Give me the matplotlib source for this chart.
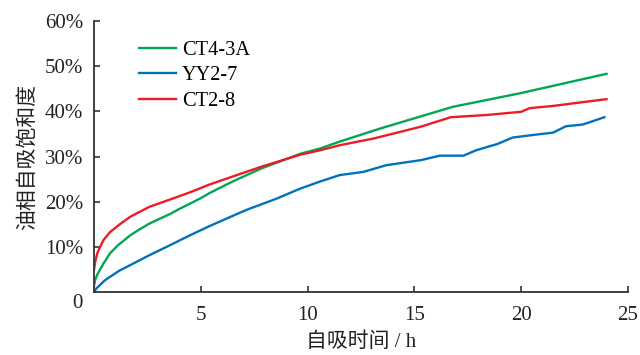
import matplotlib
matplotlib.use("Agg")
import matplotlib.pyplot as plt
from matplotlib.ticker import FixedLocator

plt.rcParams['font.family'] = ['Liberation Serif', 'Noto Sans CJK SC']

# Data (time in h, saturation in %)
t_ct43a = [0, 0.05, 0.15, 0.28, 0.45, 0.75, 1.1, 1.7, 2.1, 2.6, 3.1, 3.56, 4.03, 4.5, 5.0, 5.4, 5.9, 6.5, 7.8,
           9.65, 10.6, 11.5, 13.4, 16.8, 19.95, 24]
s_ct43a = [1.5, 2.7, 3.9, 5.0, 6.4, 8.6, 10.3, 12.6, 13.8, 15.2, 16.3, 17.3, 18.5, 19.6, 20.8, 21.9, 23.1, 24.5,
           27.3, 30.6, 31.8, 33.3, 36.2, 41.0, 44.0, 48.3]

t_yy27 = [0, 0.1, 0.28, 0.5, 0.75, 1.2, 1.7, 2.6, 3.56, 4.5, 5.4, 6.84, 7.3, 8.5, 9.65, 10.6, 11.5, 12.6, 13.7,
          15.3, 16.2, 17.3, 17.9, 18.9, 19.6, 20.6, 21.5, 22.1, 22.9, 23.9]
s_yy27 = [0, 0.8, 1.6, 2.6, 3.4, 4.8, 6.0, 8.2, 10.4, 12.6, 14.6, 17.6, 18.5, 20.6, 22.9, 24.5, 25.9, 26.6, 28.1,
          29.2, 30.2, 30.2, 31.4, 32.8, 34.2, 34.8, 35.3, 36.7, 37.1, 38.7]

t_ct28 = [0, 0.05, 0.15, 0.28, 0.45, 0.75, 1.2, 1.7, 2.6, 3.56, 4.5, 5.4, 6.5, 7.8, 9.65, 10.6, 11.5, 13.1, 15.3,
          15.9, 16.7, 18.4, 20.0, 20.4, 21.5, 24]
s_ct28 = [5.0, 6.7, 8.6, 10.0, 11.6, 13.3, 15.0, 16.7, 18.9, 20.5, 22.1, 23.8, 25.6, 27.7, 30.4, 31.4, 32.5, 34.0,
          36.6, 37.5, 38.7, 39.2, 39.9, 40.7, 41.2, 42.7]

series_names = ['CT4-3A', 'YY2-7', 'CT2-8']
colors = ['#00a651', '#0072bc', '#ed1c24']

x_ticks = [5, 10, 15, 20, 25]
y_ticks = [10, 20, 30, 40, 50, 60]
y_ticklabels = ['10%', '20%', '30%', '40%', '50%', '60%']

fig = plt.figure(figsize=(6.4, 3.55), dpi=100)
ax = fig.add_axes([0.147, 0.177, 0.834, 0.764])

for (tt, ss), name, c in zip([(t_ct43a, s_ct43a), (t_yy27, s_yy27), (t_ct28, s_ct28)], series_names, colors):
    ax.plot(tt, ss, color=c, lw=1.7, label=name, solid_joinstyle='round')

ax.set_xlim(0, 25)
ax.set_ylim(0, 60)
ax.xaxis.set_major_locator(FixedLocator(x_ticks))
ax.yaxis.set_major_locator(FixedLocator(y_ticks))
ax.set_yticklabels(y_ticklabels)
ax.tick_params(direction='in', length=4, width=1.2, color='#333333', labelsize=15, labelcolor='#222222')
ax.tick_params(axis='x', pad=10)
ax.tick_params(axis='y', pad=8)
for side in ['top', 'right']:
    ax.spines[side].set_visible(False)
for side in ['left', 'bottom']:
    ax.spines[side].set_linewidth(1.3)
    ax.spines[side].set_color('#333333')

fig.text(77 / 640, 1 - 303 / 355, '0', fontsize=15, ha='center', va='center', color='#222222')

ax.set_xlabel('自吸时间 / h', fontsize=15, color='#222222', labelpad=5)
ax.set_ylabel('油相自吸饱和度', fontsize=15, color='#222222', labelpad=5)

leg = ax.legend(loc='upper left', bbox_to_anchor=(0.05, 0.995), frameon=False, fontsize=14.7,
                handlelength=1.8, handletextpad=0.3, labelspacing=0.3)

fig.savefig('out.png', dpi=100)
